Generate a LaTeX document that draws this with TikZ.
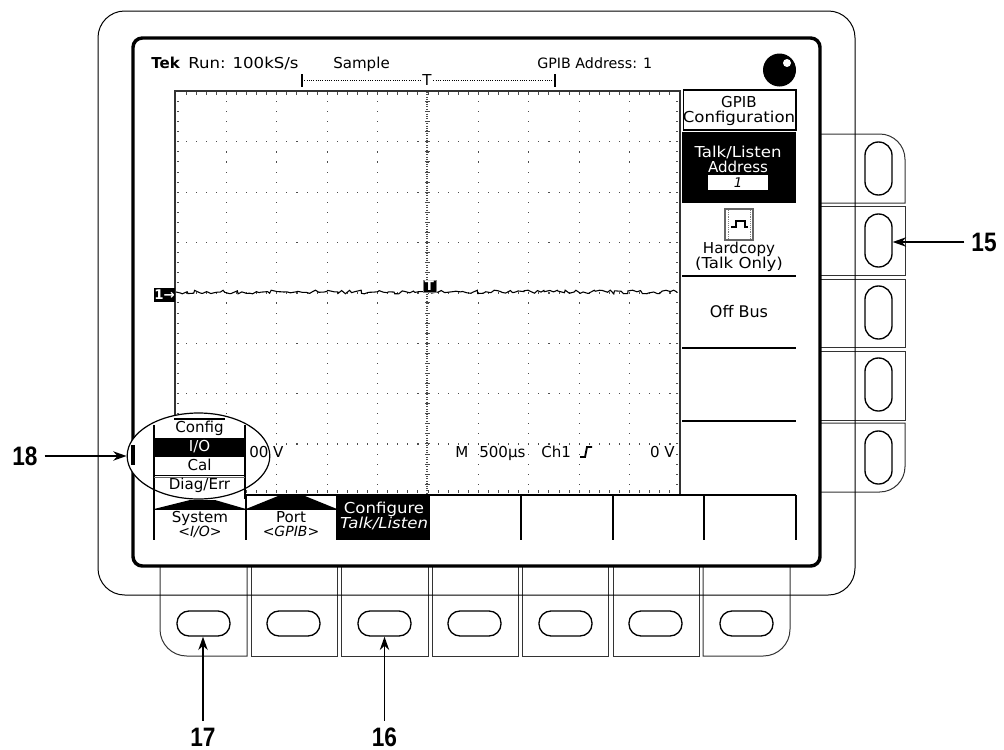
\documentclass[tikz,border=0pt]{standalone}
\usepackage{fontspec}
\usepackage{xcolor}
\usetikzlibrary{shapes.geometric,arrows.meta,decorations.pathmorphing}
\newfontfamily\scrfont{DejaVu Sans}
\newfontfamily\scrwide[FakeStretch=1.1]{DejaVu Sans}
\newfontfamily\callfont[FakeStretch=0.85]{Liberation Sans Bold}
\definecolor{panelgray}{gray}{0.2}
\tikzset{
  panel/.style={draw=panelgray,line width=0.75pt},
  hbutton/.style={draw,line width=1pt,rounded corners=9pt,minimum width=39.75pt,minimum height=18.75pt},
  vbutton/.style={draw,line width=1pt,rounded corners=10pt,minimum width=20.25pt,minimum height=39.75pt},
  griddot/.style={fill=black!70},
  scr/.style={inner sep=0pt,anchor=base,font=\scrfont\fontsize{11.3}{11.25}\selectfont},
  bigscr/.style={scr,font=\scrwide\fontsize{11.3}{11.25}\selectfont},
  itscr/.style={scr,font=\scrfont\itshape\fontsize{10.5}{10.5}\selectfont},
  callout/.style={font=\callfont\fontsize{20}{20}\selectfont,inner sep=5pt},
  calline/.style={line width=1.3pt,-{Stealth[length=10pt,width=7pt]}},
  menuline/.style={line width=0.9pt},
  marker/.style={fill=black,text=white,inner sep=0pt,font=\scrfont\bfseries\fontsize{10}{10}\selectfont}
}
\begin{document}
\begin{tikzpicture}[x=0.75pt,y=-0.75pt]
  \useasboundingbox (0,0) rectangle (1004,750);
  % right button panels
  \draw[panel] (810,203) -- (905,203) [rounded corners=19pt] -- (905,134) -- (810,134);
  \draw[panel] (810,206) rectangle (905,275);
  \draw[panel] (810,279) rectangle (905,347);
  \draw[panel] (810,351) rectangle (905,420);
  \draw[panel] (810,423) -- (905,423) [rounded corners=19pt] -- (905,492) -- (810,492);
  % bottom button panels
  \draw[panel] (247,556) -- (247,656) [rounded corners=20pt] -- (160,656) -- (160,556);
  \draw[panel] (251,556) rectangle (337,656);
  \draw[panel] (341,556) rectangle (428,656);
  \draw[panel] (432,556) rectangle (518,656);
  \draw[panel] (522,556) rectangle (608,656);
  \draw[panel] (613,556) rectangle (699,656);
  \draw[panel] (703,556) -- (703,656) [rounded corners=20pt] -- (790,656) -- (790,556);
  % bezel and screen
  \draw[line width=0.75pt,rounded corners=20pt] (98,11) rectangle (855,595);
  \draw[fill=white,line width=2.6pt,rounded corners=7pt] (133,38) rectangle (820,566);
  % buttons
  \node[vbutton] (right1) at (878.5,168.5) {};
  \node[vbutton] (right2) at (878.5,240.5) {};
  \node[vbutton] (right3) at (878.5,312.5) {};
  \node[vbutton] (right4) at (878.5,384.5) {};
  \node[vbutton] (right5) at (878.5,457.5) {};
  \node[hbutton] (low1) at (203.5,623.5) {};
  \node[hbutton] (low2) at (293.5,623.5) {};
  \node[hbutton] (low3) at (384.5,623.5) {};
  \node[hbutton] (low4) at (474.5,623.5) {};
  \node[hbutton] (low5) at (565.5,623.5) {};
  \node[hbutton] (low6) at (655.5,623.5) {};
  \node[hbutton] (low7) at (746.5,623.5) {};
  % graticule
  \foreach \gx in {1,...,9}
    \foreach \dy in {1,...,39}
      \path[griddot] (175.5+50.4*\gx,91+10.07*\dy) rectangle +(1.1,1.1);
  \foreach \gy in {1,...,7}
    \foreach \dx in {1,...,49}
      \path[griddot] (175.5+10.08*\dx,91+50.35*\gy) rectangle +(1.1,1.1);
  \foreach \dy in {1,...,39} {
    \path[griddot] (177,91+10.07*\dy) rectangle +(2,1);
    \path[griddot] (676,91+10.07*\dy) rectangle +(2,1);
    \path[griddot] (424.5,91+10.07*\dy) rectangle +(5,1);
  }
  \foreach \dx in {1,...,49} {
    \path[griddot] (175.5+10.08*\dx,92) rectangle +(1,3);
    \path[griddot] (175.5+10.08*\dx,490) rectangle +(1,3);
  }
  \draw[black!70,densely dotted,line width=0.8pt] (427,92) -- (427,493);
  \draw[line width=1pt,black!80] (175,494) -- (175,91) -- (680,91) -- (680,494);
  % trace
  \pgfmathsetseed{17}
  \draw[line width=0.8pt,decorate,decoration={random steps,segment length=2.5pt,amplitude=1.4pt}] (176,292) -- (677,292);
  \node[marker,minimum width=15.75pt,minimum height=10.5pt] (chmark) at (164.5,295) {1→};
  \node[marker,draw=black!50,line width=0.5pt,minimum width=9.75pt,minimum height=9pt] (trigmark) at (429.5,286) {T};
  % top readouts
  \node[scr,anchor=base west,font=\scrfont\bfseries\fontsize{11.3}{11.25}\selectfont] (tek) at (151,68) {Tek};
  \node[scr,anchor=base west,font=\scrwide\fontsize{11.3}{11.25}\selectfont] (run) at (188,68) {Run: 100kS/s};
  \node[scr,anchor=base west] (sample) at (333,68) {Sample};
  \node[scr,anchor=base west,font=\scrfont\fontsize{10.7}{11}\selectfont] (gpibaddr) at (537,68) {GPIB Address: 1};
  \fill (779.5,70) circle (16.5);
  \fill[white] (787,63) circle (4);
  \draw[densely dotted,line width=0.7pt] (302,80) -- (555,80);
  \draw[line width=1.6pt] (302,74) -- (302,87);
  \draw[line width=0.9pt] (555,74) -- (555,87);
  \node[scr,anchor=center,fill=white,inner xsep=1pt] (trigpos) at (427,80) {T};
  % bottom readouts
  \node[scr,anchor=base west,fill=white] (mlabel) at (455,457) {M};
  \node[scr,anchor=base west,fill=white] (timebase) at (479,457) {500µs};
  \node[scr,anchor=base west,fill=white] (trigch) at (541,457) {Ch1};
  \draw[line width=1.4pt] (580,457) -- (585,457) -- (587,447) -- (592,447);
  \node[scr,anchor=base east,fill=white] (triglevel) at (675,457) {0 V};
  % side menu
  \fill[white] (681,92) rectangle (800,494);
  \node[draw,line width=1pt,inner sep=0pt,minimum width=84.5pt,minimum height=30pt] (gpibbox) at (739.5,110) {};
  \node[scr] (gpibcfg) at (739,107) {GPIB};
  \node[bigscr] (gpibcfg2) at (739,122) {Configuration};
  \fill (682,132) rectangle (796,203);
  \node[bigscr,text=white] (talkaddr) at (738,157) {Talk/Listen};
  \node[scr,text=white] (talkaddr2) at (738,172) {Address};
  \node[fill=white,inner sep=0pt,minimum width=45pt,minimum height=11.25pt] (addrbox) at (738,182.5) {};
  \node[itscr,font=\scrfont\itshape\fontsize{10}{10}\selectfont] (addrval) at (738,187) {1};
  \draw[draw=black!60,line width=0.8pt] (725,209) rectangle (753,240);
  \draw[black!50,densely dotted] (728,210) -- (728,239) (750,210) -- (750,239);
  \draw[line width=0.8pt] (731,227) -- (736,227) -- (736,221) -- (745,221) -- (745,227) -- (748,227);
  \node[scr] (hardcopy) at (739,253) {Hardcopy};
  \node[bigscr] (talkonly) at (739,268) {(Talk Only)};
  \node[scr,font=\scrfont\fontsize{12}{12}\selectfont] (offbus) at (739,317) {Off Bus};
  \draw[menuline] (682,276) -- (796,276);
  \draw[menuline] (682,348) -- (796,348);
  \draw[menuline] (682,421) -- (796,421);
  % bottom menu
  \draw[line width=1.2pt] (246,495) -- (796,495);
  \foreach \bx in {154,246,337,429,521,613,704,796}
    \draw[line width=1pt] (\bx,495) -- (\bx,540);
  \fill (154,509) -- (190,500) -- (215,500) -- (246,509) -- cycle;
  \fill (246,509) -- (283,494) -- (300,494) -- (337,509) -- cycle;
  \draw[menuline] (154,509.5) -- (337,509.5);
  \node[scr] (sysmenu) at (200,522) {System};
  \node[itscr] (sysval) at (200,536) {<I/O>};
  \node[scr] (portmenu) at (291,522) {Port};
  \node[itscr] (portval) at (291,536) {<GPIB>};
  \fill (338,496) rectangle (429,540);
  \node[bigscr,text=white] (cfgmenu) at (384,513) {Configure};
  \node[scr,text=white,font=\scrwide\itshape\fontsize{11.3}{11.25}\selectfont] (talkmenu) at (384,528.5) {Talk/Listen};
  % popup
  \node[draw,ellipse,fill=white,line width=0.9pt,minimum width=107pt,minimum height=64.5pt,inner sep=0pt] (popup) at (198.5,456) {};
  \draw[line width=2.4pt] (133,445) -- (133,465);
  \draw[menuline] (154,425) -- (154,499) (245,425) -- (245,499);
  \draw[menuline] (174,419) -- (225,419);
  \node[scr] (popcfg) at (199.5,432) {Config};
  \fill (155,438) rectangle (244,457);
  \node[scr,text=white] (popio) at (199.5,451) {I/O};
  \draw[menuline] (154,475.5) -- (245,475.5);
  \draw[black!60,line width=1pt] (154,477.5) -- (245,477.5);
  \node[scr] (popcal) at (199.5,470) {Cal};
  \node[scr] (popdiag) at (199.5,489) {Diag/Err};
  \node[scr,anchor=base west] (chscale) at (249,457) {00 V};
  % callouts
  \node[callout] (call15) at (984,242) {15};
  \node[callout] (call16) at (384.5,737) {16};
  \node[callout] (call17) at (203,737) {17};
  \node[callout] (call18) at (25,456) {18};
  \draw[calline] (call15.west) -- (call15.west -| right2.east);
  \draw[calline] (call16.north) -- (call16.north |- low3.south);
  \draw[calline] (call17.north) -- (call17.north |- low1.south);
  \draw[calline] (call18.east) -- (popup.west);
\end{tikzpicture}
\end{document}
